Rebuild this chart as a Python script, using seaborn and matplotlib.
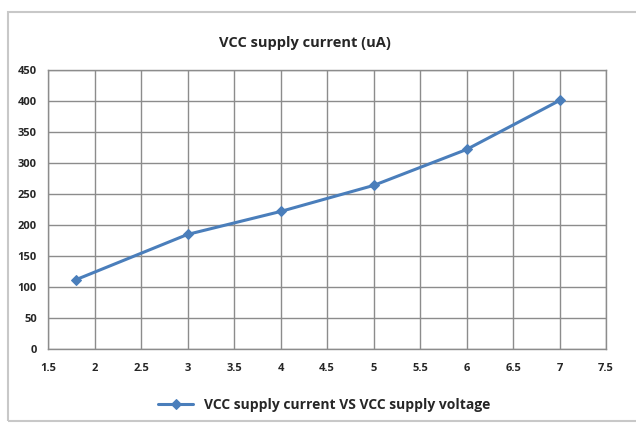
import matplotlib
matplotlib.use("Agg")
import matplotlib.pyplot as plt
from matplotlib.patches import Rectangle
import seaborn as sns
import pandas as pd

# VCC supply current vs supply voltage
voltage = [1.8, 3, 4, 5, 6, 7]
current = [112, 185, 222, 264, 322, 401]
xticks = [1.5, 2, 2.5, 3, 3.5, 4, 4.5, 5, 5.5, 6, 6.5, 7, 7.5]
yticks = [0, 50, 100, 150, 200, 250, 300, 350, 400, 450]

df = pd.DataFrame({"v": voltage, "i": current})

sns.set_style("white")
plt.rcParams['font.family'] = ['Open Sans', 'DejaVu Sans']

fig = plt.figure(figsize=(6.36, 4.30), dpi=100)
ax = fig.add_axes([0.0755, 0.188, 0.8775, 0.649])

blue = "#4a7ebb"
sns.lineplot(data=df, x="v", y="i", ax=ax, color=blue, lw=2.2,
             marker="D", markersize=5, markeredgecolor=blue,
             label="VCC supply current VS VCC supply voltage", legend=False)

ax.set_xlim(1.5, 7.5)
ax.set_ylim(0, 450)
ax.set_xticks(xticks)
ax.set_xticklabels([f"{t:g}" for t in xticks])
ax.set_yticks(yticks)
ax.grid(True, color="#8c8c8c", lw=1.0)
ax.set_axisbelow(True)
for s in ax.spines.values():
    s.set_color("#8c8c8c")
    s.set_linewidth(1.0)
ax.tick_params(length=0, labelsize=8)
ax.tick_params(axis="x", pad=10)
ax.tick_params(axis="y", pad=8)
for lab in ax.get_xticklabels() + ax.get_yticklabels():
    lab.set_fontweight("bold")
ax.set_xlabel("")
ax.set_ylabel("")

fig.text(0.48, 0.9, "VCC supply current (uA)", ha="center", va="center",
         fontsize=10.5, fontweight="bold")

h, l = ax.get_legend_handles_labels()
fig.legend(h, l, loc="center", bbox_to_anchor=(0.51, 0.058), frameon=False,
           prop={"size": 10, "weight": "bold"}, handlelength=2.5)

fig.patches.append(Rectangle((0.013, 0.02), 0.99, 0.952, transform=fig.transFigure,
                             fill=False, edgecolor="#c8c8c8", lw=1.5))

fig.savefig("out.png", dpi=100)
